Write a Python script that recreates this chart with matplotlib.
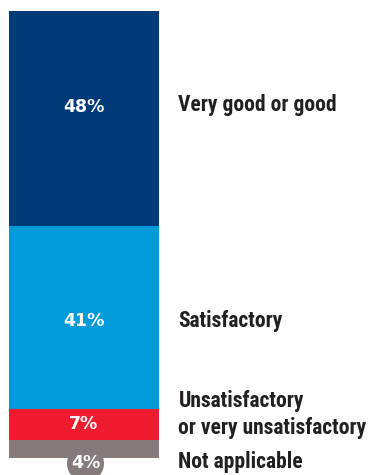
import matplotlib.pyplot as plt

# data, top of the bar first
categories = ["Very good or good", "Satisfactory",
              "Unsatisfactory\nor very unsatisfactory", "Not applicable"]
shares = [48, 41, 7, 4]
colors = ["#003a78", "#009bd8", "#ee1c2e", "#857c79"]

label_font = ["Roboto Condensed", "DejaVu Sans"]
value_font = ["DejaVu Sans"]

fig = plt.figure(figsize=(3.78, 4.75), dpi=100)
# bar spans x 9..159 px, y 11..458 px
ax = fig.add_axes([9 / 378, 17 / 475, 150 / 378, 447 / 475])
ax.set_xlim(0, 1)
ax.set_ylim(0, 100)
ax.axis("off")

# stack from the bottom up
bottom = 0
segs = []
for val, col in zip(shares[::-1], colors[::-1]):
    ax.bar(0.5, val, width=1, bottom=bottom, color=col, linewidth=0)
    segs.append((bottom, val))
    bottom += val
segs = segs[::-1]

# nudges so labels sit where the original has them
value_off = [2.5, -0.9, 0.0]
label_off = [3.0, -0.9, 2.2, -2.9]

# value labels inside the bar
for i, (b, v) in enumerate(segs):
    mid = b + v / 2
    if i == len(segs) - 1:
        # small slice: badge hanging below the bar
        ax.scatter([0.51], [-1.1], s=710, color=colors[i], clip_on=False,
                   zorder=3, linewidths=0)
        ax.text(0.51, -1.1, f"{v}%", color="white", fontsize=12.5,
                fontweight="bold", family=value_font, ha="center",
                va="center", zorder=4, clip_on=False)
    else:
        ax.text(0.5, mid + value_off[i], f"{v}%", color="white",
                fontsize=12.5, fontweight="bold", family=value_font,
                ha="center", va="center")

# category labels to the right
for (b, v), cat, off in zip(segs, categories, label_off):
    ax.text(1.13, b + v / 2 + off, cat, color="#231f20", fontsize=15.5,
            fontweight="bold", family=label_font, ha="left", va="center",
            linespacing=1.3, clip_on=False)

fig.savefig("out.png", dpi=100)
